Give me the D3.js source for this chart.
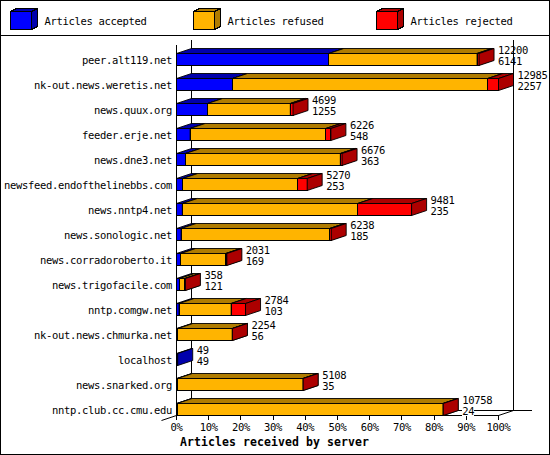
<!DOCTYPE html>
<html><head><meta charset="utf-8">
<script src="https://cdn.jsdelivr.net/npm/d3@7"></script>
<style>
html,body{margin:0;padding:0;background:#fff;}
svg{display:block;}
text{font-family:"DejaVu Sans Mono","Liberation Mono",monospace;}
</style></head>
<body>
<svg id="chart" width="550" height="455"></svg>
<script>
const categories = ["peer.alt119.net","nk-out.news.weretis.net","news.quux.org","feeder.erje.net","news.dne3.net","newsfeed.endofthelinebbs.com","news.nntp4.net","news.sonologic.net","news.corradoroberto.it","news.trigofacile.com","nntp.comgw.net","nk-out.news.chmurka.net","localhost","news.snarked.org","nntp.club.cc.cmu.edu"];
const totals   = [12200,12985,4699,6226,6676,5270,9481,6238,2031,358,2784,2254,49,5108,10758];
const accepted = [6141,2257,1255,548,363,253,235,185,169,121,103,56,49,35,24];
const refused  = [5979,10298,3334,5478,6243,4637,7076,5993,1822,217,2101,2193,0,5068,10724];
const rejected = [80,430,110,200,70,380,2170,60,40,20,580,5,0,5,10];
const seriesNames = ["Articles accepted","Articles refused","Articles rejected"];
const tickLabels = ["0%","10%","20%","30%","40%","50%","60%","70%","80%","90%","100%"];
const tickValues = [0,10,20,30,40,50,60,70,80,90,100];
const axisTitle = "Articles received by server";

const fronts = ["#0000ff","#ffb400","#ff0000"];
const shades = ["#0000ac","#b07c00","#ac0000"];
const series = [accepted, refused, rejected];

const svg = d3.select("#chart").attr("shape-rendering","crispEdges");
svg.append("rect").attr("width",550).attr("height",455).attr("fill","#fff");
svg.append("rect").attr("x",0.5).attr("y",0.5).attr("width",549).attr("height",454)
  .attr("fill","none").attr("stroke","#000");
svg.append("line").attr("x1",0).attr("x2",550).attr("y1",35.5).attr("y2",35.5).attr("stroke","#000");

const small = s => s.attr("font-size","10.5px").attr("letter-spacing","-0.32px").attr("fill","#000");

// legend
const legX = d3.scalePoint().domain(seriesNames).range([10.5, 376.5]);
const LW=21, LH=18, LDX=6, LDY=3, LY=11.5;
seriesNames.forEach((n,i)=>{
  const x=legX(n), y=LY;
  const g=svg.append("g");
  g.append("rect").attr("x",x).attr("y",y).attr("width",LW).attr("height",LH)
    .attr("fill",fronts[i]).attr("stroke","#000");
  g.append("polygon").attr("points",[[x,y],[x+LDX,y-LDY],[x+LW+LDX,y-LDY],[x+LW,y]].join(" "))
    .attr("fill",shades[i]).attr("stroke","#000");
  g.append("polygon").attr("points",[[x+LW,y],[x+LW+LDX,y-LDY],[x+LW+LDX,y+LH-LDY],[x+LW,y+LH]].join(" "))
    .attr("fill",shades[i]).attr("stroke","#000");
  small(g.append("text").attr("x",x+34).attr("y",25).text(n));
});

// scales
const DX=15, DY=5, BH=12;
const x = d3.scaleLinear().domain([0, d3.max(totals)]).range([176.5, 498.5]);
const xp = d3.scaleLinear().domain([0,100]).range([176.5, 498.5]);
const y = d3.scaleBand().domain(categories).range([40, 415]);
const floorY = 415.5;

// back walls & floor
svg.append("line").attr("x1",xp(0)+DX).attr("x2",xp(0)+DX).attr("y1",40).attr("y2",floorY-DY).attr("stroke","#000");
svg.append("line").attr("x1",xp(0)+DX).attr("x2",xp(100)+DX+18).attr("y1",floorY-DY).attr("y2",floorY-DY).attr("stroke","#000");
svg.append("line").attr("x1",xp(0)).attr("x2",xp(100)).attr("y1",floorY).attr("y2",floorY).attr("stroke","#000");
svg.append("line").attr("x1",xp(100)).attr("x2",xp(100)+DX).attr("y1",floorY).attr("y2",floorY-DY).attr("stroke","#000").attr("shape-rendering","auto");
svg.append("line").attr("x1",xp(0)).attr("x2",xp(0)-DX).attr("y1",floorY).attr("y2",floorY+DY).attr("stroke","#000").attr("shape-rendering","auto");
svg.append("line").attr("x1",xp(0)).attr("x2",xp(0)).attr("y1",45).attr("y2",floorY).attr("stroke","#000");

// ticks
tickValues.forEach((v,i)=>{
  svg.append("line").attr("x1",xp(v)).attr("x2",xp(v)).attr("y1",floorY).attr("y2",floorY+4).attr("stroke","#000");
  small(svg.append("text").attr("x",xp(v)).attr("y",431).attr("text-anchor","middle").text(tickLabels[i]));
});
svg.append("text").attr("x",180).attr("y",446).attr("font-size","11.5px").attr("font-weight","bold")
  .attr("letter-spacing","0.08px").attr("fill","#000").text(axisTitle);

// bars
const bars = svg.append("g");
categories.forEach((c,r)=>{
  const top = y(c) + y.bandwidth() - BH + 0.5;
  let cum = 0;
  series.forEach((s,k)=>{
    const v = s[r];
    if (v <= 0) return;
    const x0 = x(cum), x1 = x(cum+v);
    cum += v;
    const g = bars.append("g");
    g.append("rect").attr("x",x0).attr("y",top).attr("width",Math.max(0,x1-x0)).attr("height",BH)
      .attr("fill",fronts[k]).attr("stroke","#000");
    g.append("polygon").attr("points",[[x0,top],[x0+DX,top-DY],[x1+DX,top-DY],[x1,top]].join(" "))
      .attr("fill",shades[k]).attr("stroke","#000").attr("shape-rendering","auto").attr("stroke-width",0.9);
    g.append("polygon").attr("points",[[x1,top],[x1+DX,top-DY],[x1+DX,top+BH-DY],[x1,top+BH]].join(" "))
      .attr("fill",shades[k]).attr("stroke","#000").attr("shape-rendering","auto").attr("stroke-width",0.9);
  });
  // category label
  small(svg.append("text").attr("x",172).attr("y",top+10.5).attr("text-anchor","end").text(c));
  // value labels
  const lx = x(totals[r]) + DX + 4;
  const lg = svg.append("g");
  const t1 = small(lg.append("text").attr("x",lx).attr("y",top+0.5).text(totals[r]));
  const t2 = small(lg.append("text").attr("x",lx).attr("y",top+11.5).text(accepted[r]));
  [t1,t2].forEach(t=>{
    const b = t.node().getBBox();
    lg.insert("rect","text").attr("x",b.x).attr("y",b.y+1).attr("width",b.width).attr("height",b.height-2).attr("fill","#fff");
  });
});

// right back wall line on top
svg.append("line").attr("x1",xp(100)+DX).attr("x2",xp(100)+DX).attr("y1",40).attr("y2",floorY-DY).attr("stroke","#000");
</script>
</body></html>
